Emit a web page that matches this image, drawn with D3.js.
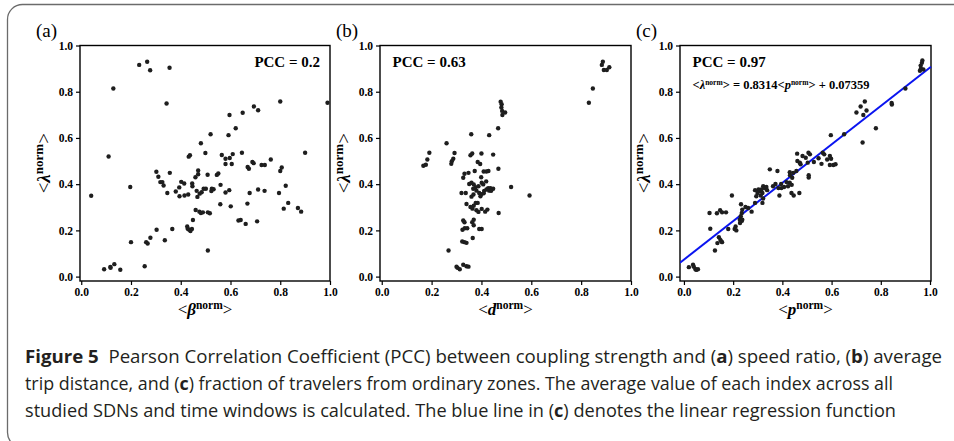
<!DOCTYPE html>
<html>
<head>
<meta charset="utf-8">
<script src="https://cdn.jsdelivr.net/npm/d3@7"></script>
<style>
  html, body { margin: 0; padding: 0; background: #fff; }
  svg { display: block; }
</style>
</head>
<body>
<svg id="chart" width="954" height="441"></svg>
<script>
// ---------------- DATA ----------------
const tickValues = [0.0, 0.2, 0.4, 0.6, 0.8, 1.0];
const panelLetters = ["(a)", "(b)", "(c)"];
const xSymbols = ["β", "d", "p"];
const pccLabels = ["PCC = 0.2", "PCC = 0.63", "PCC = 0.97"];
const regSlope = 0.8314;
const regIntercept = 0.07359;

// panel (a): <beta_norm> vs <lambda_norm>
const aPoints = [
 [0.233,0.916],[0.265,0.930],[0.277,0.893],[0.355,0.904],[0.129,0.814],[0.343,0.749],[0.11,0.52],[0.04,0.35],[0.197,0.388],[0.8,0.758],
 [0.99,0.752],[0.694,0.736],[0.711,0.72],[0.596,0.699],[0.649,0.709],[0.621,0.642],[0.592,0.612],[0.52,0.616],[0.481,0.577],[0.437,0.525],
 [0.432,0.519],[0.499,0.535],[0.565,0.526],[0.609,0.530],[0.646,0.536],[0.9,0.536],[0.58,0.51],[0.597,0.513],[0.605,0.487],[0.58,0.487],
 [0.47,0.459],[0.47,0.443],[0.508,0.441],[0.545,0.44],[0.551,0.446],[0.459,0.43],[0.669,0.474],[0.674,0.467],[0.688,0.496],[0.693,0.491],
 [0.725,0.483],[0.738,0.483],[0.762,0.507],[0.8,0.457],[0.806,0.472],[0.302,0.454],[0.31,0.432],[0.318,0.409],[0.326,0.409],[0.331,0.394],
 [0.356,0.449],[0.346,0.362],[0.38,0.368],[0.394,0.386],[0.402,0.41],[0.414,0.403],[0.395,0.348],[0.415,0.351],[0.43,0.355],[0.447,0.391],
 [0.446,0.403],[0.464,0.371],[0.467,0.345],[0.476,0.359],[0.484,0.365],[0.492,0.38],[0.501,0.38],[0.523,0.37],[0.525,0.38],[0.532,0.378],
 [0.56,0.397],[0.58,0.364],[0.595,0.374],[0.559,0.313],[0.601,0.304],[0.668,0.316],[0.677,0.362],[0.711,0.377],[0.737,0.371],[0.795,0.362],
 [0.822,0.393],[0.832,0.319],[0.814,0.294],[0.871,0.297],[0.884,0.281],[0.46,0.288],[0.475,0.281],[0.481,0.275],[0.489,0.278],[0.509,0.278],
 [0.517,0.274],[0.632,0.243],[0.641,0.245],[0.661,0.228],[0.707,0.239],[0.449,0.245],[0.426,0.217],[0.434,0.203],[0.439,0.197],[0.445,0.206],
 [0.428,0.207],[0.509,0.113],[0.303,0.203],[0.366,0.206],[0.336,0.157],[0.2,0.149],[0.261,0.149],[0.267,0.143],[0.278,0.168],[0.092,0.032],
 [0.117,0.042],[0.118,0.038],[0.133,0.054],[0.157,0.030],[0.255,0.045]
];

// panel (b): <d_norm> vs <lambda_norm>
const bPoints = [
 [0.887,0.930],[0.883,0.916],[0.891,0.894],[0.903,0.894],[0.913,0.906],[0.847,0.814],[0.831,0.752],
 [0.477,0.757],[0.481,0.746],[0.48,0.732],[0.483,0.717],[0.495,0.71],[0.484,0.699],
 [0.467,0.642],[0.431,0.612],[0.359,0.616],[0.26,0.577],
 [0.167,0.48],[0.177,0.484],[0.183,0.507],[0.191,0.536],
 [0.292,0.535],[0.287,0.51],[0.281,0.499],[0.279,0.488],
 [0.356,0.525],[0.363,0.533],[0.4,0.533],[0.447,0.528],[0.468,0.467],
 [0.385,0.496],[0.395,0.487],[0.409,0.455],[0.42,0.455],[0.428,0.457],[0.373,0.457],
 [0.332,0.445],[0.348,0.449],[0.327,0.428],[0.399,0.43],
 [0.351,0.401],[0.36,0.406],[0.369,0.399],[0.376,0.387],[0.388,0.391],[0.401,0.406],[0.407,0.399],[0.419,0.412],
 [0.367,0.38],[0.38,0.372],[0.391,0.362],[0.4,0.357],[0.411,0.371],[0.42,0.377],[0.427,0.383],[0.436,0.383],[0.447,0.38],[0.431,0.372],[0.439,0.371],[0.409,0.361],[0.396,0.348],
 [0.32,0.362],[0.337,0.362],[0.368,0.355],[0.36,0.346],
 [0.519,0.388],[0.593,0.351],
 [0.34,0.314],[0.356,0.301],[0.369,0.307],[0.377,0.319],[0.385,0.319],
 [0.364,0.294],[0.38,0.287],[0.388,0.28],[0.401,0.293],[0.415,0.281],[0.424,0.29],[0.469,0.275],
 [0.327,0.243],[0.332,0.235],[0.369,0.246],[0.363,0.235],[0.369,0.222],
 [0.324,0.203],[0.333,0.209],[0.343,0.209],[0.391,0.206],[0.401,0.206],
 [0.365,0.167],[0.323,0.152],[0.332,0.149],[0.34,0.146],[0.268,0.113],
 [0.304,0.038],[0.313,0.032],[0.327,0.051],[0.34,0.045],[0.348,0.043],[0.3,0.043]
];

// panel (c): <p_norm> vs <lambda_norm>
const cPoints = [
 [0.969,0.935],[0.967,0.925],[0.962,0.913],[0.963,0.901],[0.959,0.891],[0.973,0.896],
 [0.9,0.814],[0.844,0.751],[0.845,0.745],[0.78,0.642],
 [0.735,0.758],[0.718,0.736],[0.742,0.719],[0.701,0.71],[0.729,0.699],[0.726,0.58],
 [0.651,0.616],[0.597,0.612],
 [0.593,0.522],[0.598,0.51],[0.582,0.507],[0.607,0.483],[0.616,0.486],[0.593,0.483],[0.559,0.488],[0.57,0.529],[0.564,0.536],[0.547,0.512],[0.528,0.496],
 [0.46,0.532],[0.482,0.522],[0.495,0.514],[0.506,0.536],[0.512,0.529],[0.503,0.493],[0.507,0.439],[0.507,0.429],
 [0.471,0.493],[0.474,0.486],[0.461,0.5],
 [0.43,0.452],[0.431,0.439],[0.444,0.449],[0.44,0.428],[0.457,0.457],
 [0.349,0.464],[0.38,0.457],
 [0.43,0.406],[0.417,0.409],[0.438,0.397],[0.423,0.391],[0.407,0.388],
 [0.395,0.401],[0.396,0.383],[0.384,0.383],[0.388,0.351],[0.362,0.391],[0.372,0.401],
 [0.437,0.362],[0.446,0.351],[0.469,0.362],
 [0.322,0.391],[0.328,0.383],[0.335,0.388],[0.338,0.374],[0.315,0.377],[0.308,0.37],[0.303,0.377],[0.289,0.374],[0.299,0.362],[0.319,0.362],[0.294,0.348],[0.312,0.351],[0.322,0.338],[0.319,0.319],[0.289,0.319],
 [0.275,0.281],[0.261,0.297],[0.25,0.301],[0.237,0.29],[0.232,0.313],[0.235,0.275],[0.231,0.261],[0.235,0.241],[0.227,0.246],[0.237,0.246],[0.228,0.232],[0.195,0.351],[0.21,0.217],[0.206,0.206],[0.213,0.2],[0.18,0.206],
 [0.104,0.275],[0.134,0.274],[0.147,0.287],[0.155,0.278],[0.171,0.278],[0.107,0.207],
 [0.142,0.17],[0.148,0.159],[0.155,0.149],[0.136,0.145],[0.152,0.152],[0.126,0.113],
 [0.02,0.041],[0.037,0.051],[0.04,0.043],[0.046,0.033],[0.057,0.032],[0.05,0.029]
];

const xDomains = [[-0.005, 1.0], [-0.007, 1.0], [-0.016, 1.004]];
const yDomain = [-0.019, 1.0];

const captionLines = [
  [{t:"Figure 5", b:true}, {t:"  Pearson Correlation Coefficient (PCC) between coupling strength and ("}, {t:"a", b:true}, {t:") speed ratio, ("}, {t:"b", b:true}, {t:") average"}],
  [{t:"trip distance, and ("}, {t:"c", b:true}, {t:") fraction of travelers from ordinary zones. The average value of each index across all"}],
  [{t:"studied SDNs and time windows is calculated. The blue line in ("}, {t:"c", b:true}, {t:") denotes the linear regression function"}]
];

// ---------------- LAYOUT ----------------
const svg = d3.select("#chart");
const serif = "'Liberation Serif', 'Times New Roman', serif";
const frames = [
  {left: 80, right: 330},
  {left: 380, right: 631},
  {left: 680, right: 931}
];
const plotTop = 45.5, plotBottom = 281;
const allPoints = [aPoints, bPoints, cPoints];

// outer rounded box
svg.append("rect")
  .attr("x", 7.5).attr("y", 4.5)
  .attr("width", 980).attr("height", 443)
  .attr("rx", 15).attr("ry", 15)
  .attr("fill", "none").attr("stroke", "#6b6b6b").attr("stroke-width", 1.3);

const yScale = d3.scaleLinear().domain(yDomain).range([plotBottom, plotTop]);

frames.forEach((f, i) => {
  const xScale = d3.scaleLinear().domain(xDomains[i]).range([f.left, f.right]);
  const g = svg.append("g");

  const xAxis = d3.axisBottom(xScale).tickValues(tickValues).tickSize(4).tickPadding(3).tickFormat(d3.format(".1f"));
  const yAxis = d3.axisLeft(yScale).tickValues(tickValues).tickSize(4).tickPadding(3).tickFormat(d3.format(".1f"));
  const gx = g.append("g").attr("transform", `translate(0,${plotBottom})`).call(xAxis);
  const gy = g.append("g").attr("transform", `translate(${f.left},0)`).call(yAxis);
  [gx, gy].forEach(ax => {
    ax.select(".domain").remove();
    ax.selectAll(".tick line").attr("stroke", "#000").attr("stroke-width", 1.2);
    ax.selectAll(".tick text")
      .attr("fill", "#000")
      .style("font-family", serif)
      .style("font-weight", "bold")
      .style("font-size", "11.5px");
  });

  g.append("rect")
    .attr("x", f.left).attr("y", plotTop)
    .attr("width", f.right - f.left).attr("height", plotBottom - plotTop)
    .attr("fill", "none").attr("stroke", "#000").attr("stroke-width", 1.4);

  const clipId = "clip" + i;
  svg.append("clipPath").attr("id", clipId).append("rect")
    .attr("x", f.left).attr("y", plotTop).attr("width", f.right - f.left + 2).attr("height", plotBottom - plotTop);

  if (i === 2) {
    const xs = xDomains[i];
    g.append("line")
      .attr("clip-path", `url(#${clipId})`)
      .attr("x1", xScale(xs[0])).attr("y1", yScale(regSlope * xs[0] + regIntercept))
      .attr("x2", xScale(xs[1])).attr("y2", yScale(regSlope * xs[1] + regIntercept))
      .attr("stroke", "#0a14f0").attr("stroke-width", 2);
  }

  g.append("g").attr("clip-path", `url(#${clipId})`)
    .selectAll("circle").data(allPoints[i]).join("circle")
    .attr("cx", d => xScale(d[0])).attr("cy", d => yScale(d[1]))
    .attr("r", 2.2).attr("fill", "#1e1e1e");

  svg.append("text")
    .attr("x", f.left - 44).attr("y", 37)
    .style("font-family", serif).style("font-size", "19px")
    .text(panelLetters[i]);

  const pcc = svg.append("text")
    .attr("y", 67)
    .style("font-family", serif).style("font-weight", "bold").style("font-size", "15px")
    .text(pccLabels[i]);
  if (i === 0) pcc.attr("x", 320).attr("text-anchor", "end");
  else pcc.attr("x", f.left + 12.5);

  const cx = (f.left + f.right) / 2;
  const xl = svg.append("text")
    .attr("x", cx).attr("y", 315).attr("text-anchor", "middle")
    .style("font-family", serif).style("font-size", "17px");
  xl.append("tspan").text("<");
  xl.append("tspan").style("font-style", "italic").style("font-weight", "bold").text(xSymbols[i]);
  xl.append("tspan").attr("dy", -6).style("font-size", "11.5px").style("font-weight", "bold").text("norm");
  xl.append("tspan").attr("dy", 6).text(">");

  const cy = (plotTop + plotBottom) / 2;
  const yl = svg.append("text")
    .attr("transform", `translate(${f.left - 30},${cy}) rotate(-90)`)
    .attr("text-anchor", "middle")
    .style("font-family", serif).style("font-size", "19px");
  yl.append("tspan").text("<");
  yl.append("tspan").style("font-style", "italic").style("font-weight", "bold").text("λ");
  yl.append("tspan").attr("dy", -7).style("font-size", "13px").style("font-weight", "bold").text("norm");
  yl.append("tspan").attr("dy", 7).text(">");

  if (i === 2) {
    const eq = svg.append("text")
      .attr("x", f.left + 12.5).attr("y", 89)
      .style("font-family", serif).style("font-weight", "bold").style("font-size", "12.5px");
    eq.append("tspan").text("<");
    eq.append("tspan").style("font-style", "italic").text("λ");
    eq.append("tspan").attr("dy", -4).style("font-size", "7.5px").text("norm");
    eq.append("tspan").attr("dy", 4).text("> = 0.8314<");
    eq.append("tspan").style("font-style", "italic").text("p");
    eq.append("tspan").attr("dy", -4).style("font-size", "7.5px").text("norm");
    eq.append("tspan").attr("dy", 4).text("> + 0.07359");
  }
});

// ---------------- CAPTION ----------------
const capFont = "'Open Sans', 'Noto Sans', sans-serif";
const capY = [363, 390, 417];
const capRight = [942, 893, 896];
captionLines.forEach((parts, li) => {
  const t = svg.append("text")
    .attr("x", 25).attr("y", capY[li])
    .attr("textLength", capRight[li] - 25).attr("lengthAdjust", "spacingAndGlyphs")
    .attr("xml:space", "preserve")
    .style("font-family", capFont).style("font-size", "17.5px").attr("fill", "#231f20");
  parts.forEach(p => {
    t.append("tspan").style("font-weight", p.b ? "bold" : "normal").text(p.t);
  });
});
</script>
</body>
</html>
